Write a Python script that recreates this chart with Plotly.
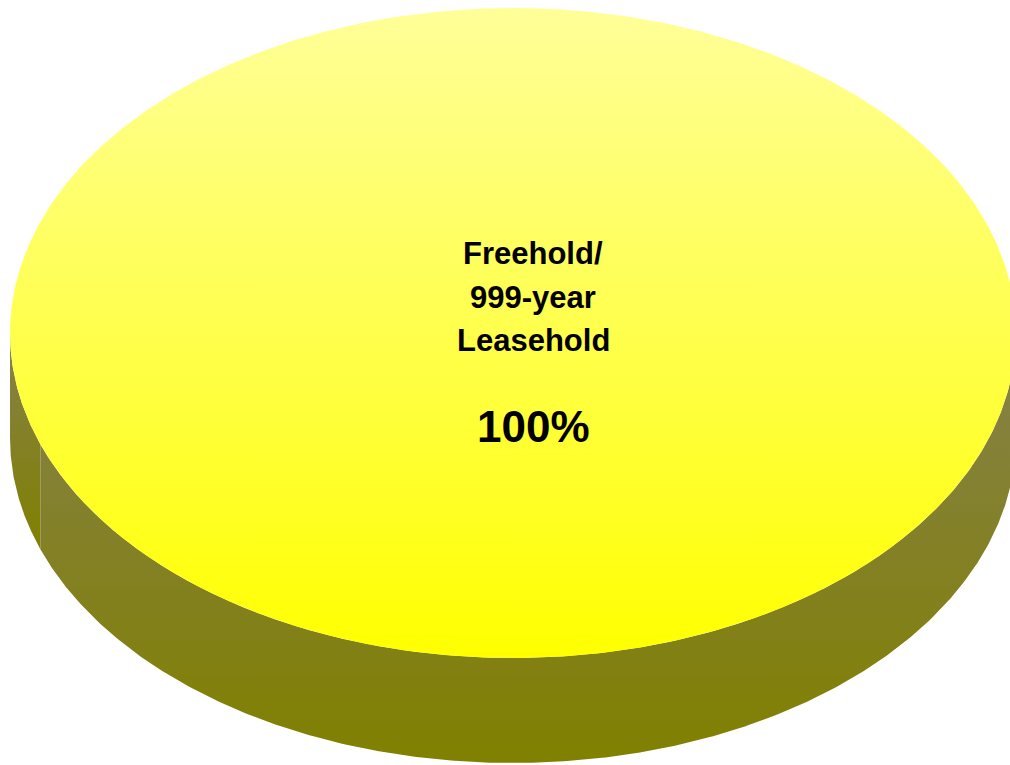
import numpy as np
import plotly.graph_objects as go

# ---- data ----
labels = ["Freehold/<br>999-year<br>Leasehold"]
values = [100]
top_gradients = [["#FFFF99", "#FFFF00"]]
side_gradients = [["#86814C", "#808000"]]
first_slice_angle = 160.0  # degrees, clockwise (screen) from 3 o'clock

# ---- geometry of the 3-D pie ----
cx, cy, rx, ry, depth = 513.0, 333.0, 503.0, 325.0, 105.0
FONT = "Liberation Sans, Arial, sans-serif"

fig = go.Figure()
total = float(sum(values))


def arc(a0, a1, dy=0.0, n=400):
    t = np.radians(np.linspace(a0, a1, n))
    return cx + rx * np.cos(t), cy + dy + ry * np.sin(t)


def front_pieces(a0, a1):
    pieces = []
    for k in range(-1, 3):
        lo, hi = max(a0, 360 * k), min(a1, 360 * k + 180)
        if hi > lo:
            pieces.append((lo, hi))
    return pieces


angle = first_slice_angle
slices = []
for lab, v, tg, sg in zip(labels, values, top_gradients, side_gradients):
    span = 360.0 * v / total
    slices.append((lab, v, angle, angle + span, tg, sg))
    angle += span

# side walls (gradient: colorscale 0 = screen bottom)
for lab, v, a0, a1, tg, sg in slices:
    for lo, hi in front_pieces(a0, a1):
        xt, yt = arc(lo, hi)
        xb, yb = arc(lo, hi, depth)
        xs = np.concatenate([xt, xb[::-1], xt[:1]])
        ys = np.concatenate([yt, yb[::-1], yt[:1]])
        fig.add_trace(go.Scatter(
            x=xs, y=ys, mode="lines", fill="toself",
            line=dict(width=0, color=sg[1]),
            fillgradient=dict(type="vertical",
                              colorscale=[[0, sg[1]], [1, sg[0]]]),
            hoverinfo="skip", showlegend=False))

# top faces
for lab, v, a0, a1, tg, sg in slices:
    xt, yt = arc(a0, a1, 0.0, 720)
    if a1 - a0 < 359.999:
        xt = np.concatenate([[cx], xt, [cx]])
        yt = np.concatenate([[cy], yt, [cy]])
    fig.add_trace(go.Scatter(
        x=xt, y=yt, mode="lines", fill="toself",
        line=dict(width=0, color=tg[1]),
        fillgradient=dict(type="vertical",
                          colorscale=[[0, tg[1]], [1, tg[0]]]),
        hoverinfo="skip", showlegend=False))

    mid = np.radians((a0 + a1) / 2)
    r = 0.0 if a1 - a0 >= 359.999 else 0.55
    lx = cx + 20 + r * rx * np.cos(mid)
    ly = cy + r * ry * np.sin(mid)
    lines = lab.split("<br>")
    n = len(lines)
    for i, line in enumerate(lines):
        fig.add_annotation(x=lx, y=ly - 36 + (i - (n - 1) / 2) * 43.5,
                           text=f"<b>{line}</b>", showarrow=False,
                           font=dict(family=FONT, size=31, color="black"),
                           xanchor="center", yanchor="middle")
    fig.add_annotation(x=lx, y=ly + 93, text=f"<b>{v / total * 100:.0f}%</b>",
                       showarrow=False,
                       font=dict(family=FONT, size=44, color="black"),
                       xanchor="center", yanchor="middle")

fig.update_layout(
    width=1010, height=765,
    margin=dict(l=0, r=0, t=0, b=0),
    paper_bgcolor="white", plot_bgcolor="white",
    xaxis=dict(range=[0, 1010], visible=False, fixedrange=True),
    yaxis=dict(range=[765, 0], visible=False, fixedrange=True),
)

fig.write_html("out.html")
